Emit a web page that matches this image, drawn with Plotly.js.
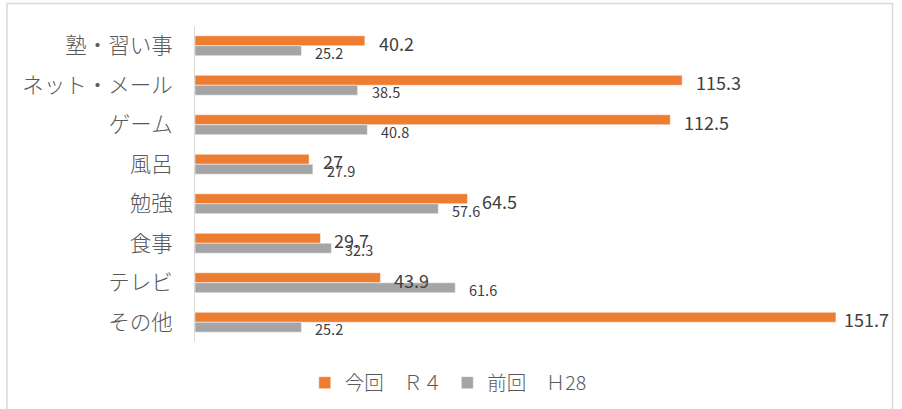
<!DOCTYPE html>
<html>
<head>
<meta charset="utf-8">
<script src="https://cdn.plot.ly/plotly-3.0.1.min.js"></script>
<style>
html,body{margin:0;padding:0;background:#fff;}
#chart{width:902px;height:409px;}
</style>
</head>
<body>
<div id="chart"></div>
<script>
const categories = ["塾・習い事", "ネット・メール", "ゲーム", "風呂", "勉強", "食事", "テレビ", "その他"];
const currentValues = [40.2, 115.3, 112.5, 27, 64.5, 29.7, 43.9, 151.7];
const previousValues = [25.2, 38.5, 40.8, 27.9, 57.6, 32.3, 61.6, 25.2];
const seriesNames = ["今回　Ｒ４", "前回　Ｈ28"];

const FONT = '"Noto Sans CJK JP", "Noto Sans", sans-serif';
const W = 902, H = 409;
const M = {l: 195, r: 31, t: 26, b: 67};
const XMAX = 160;
const plotW = W - M.l - M.r, plotH = H - M.t - M.b;

const traces = [
  {type: 'bar', orientation: 'h', name: seriesNames[0], y: categories, x: currentValues,
   marker: {color: '#ED7D31', line: {color: '#ffffff', width: 0.5}}, hoverinfo: 'none'},
  {type: 'bar', orientation: 'h', name: seriesNames[1], y: categories, x: previousValues,
   marker: {color: '#A5A5A5', line: {color: '#ffffff', width: 0.5}}, hoverinfo: 'none'}
];

function pxOf(v){ return M.l + v * plotW / XMAX; }
const annotations = [];
function addLabels(vals, size, yshift, approxW){
  vals.forEach((v, i) => {
    const px = pxOf(v);
    const xs = Math.min(12, (W - 14 - approxW) - px);
    annotations.push({x: v, y: categories[i], xref: 'x', yref: 'y', text: String(v),
      showarrow: false, xanchor: 'left', yanchor: 'middle', xshift: xs, yshift: yshift,
      font: {family: FONT, size: size, color: '#404040'}});
  });
}
addLabels(currentValues, 18, 3, 46);
addLabels(previousValues, 14.5, -6.5, 34);

const layout = {
  width: W, height: H,
  margin: M,
  paper_bgcolor: '#ffffff', plot_bgcolor: '#ffffff',
  barmode: 'group', bargap: 0.495, bargroupgap: 0,
  showlegend: true,
  legend: {orientation: 'h', xref: 'container', yref: 'container', x: 0.497, y: 1 - 383/409,
    xanchor: 'center', yanchor: 'middle', font: {family: FONT, size: 19.5, color: '#595959', weight: 300},
    traceorder: 'normal', itemwidth: 30},
  xaxis: {range: [0, XMAX], showticklabels: false, showgrid: false, zeroline: false, showline: false, ticks: '', fixedrange: true},
  yaxis: {autorange: 'reversed', type: 'category', showline: true, linecolor: '#d9d9d9', linewidth: 1,
    ticks: '', ticklabelstandoff: 17, showgrid: false, zeroline: false,
    tickfont: {family: FONT, size: 21.5, color: '#595959', weight: 300}},
  annotations: annotations,
  shapes: [{type: 'rect', xref: 'paper', yref: 'paper',
    x0: (7 - M.l)/plotW, x1: (892.5 - M.l)/plotW,
    y0: (H - M.b - 420)/plotH, y1: (H - M.b - 3.5)/plotH,
    line: {color: '#d9d9d9', width: 1.5}, fillcolor: 'rgba(0,0,0,0)', layer: 'below'}],
  font: {family: FONT}
};

Plotly.newPlot('chart', traces, layout, {displayModeBar: false, staticPlot: true});
</script>
</body>
</html>
